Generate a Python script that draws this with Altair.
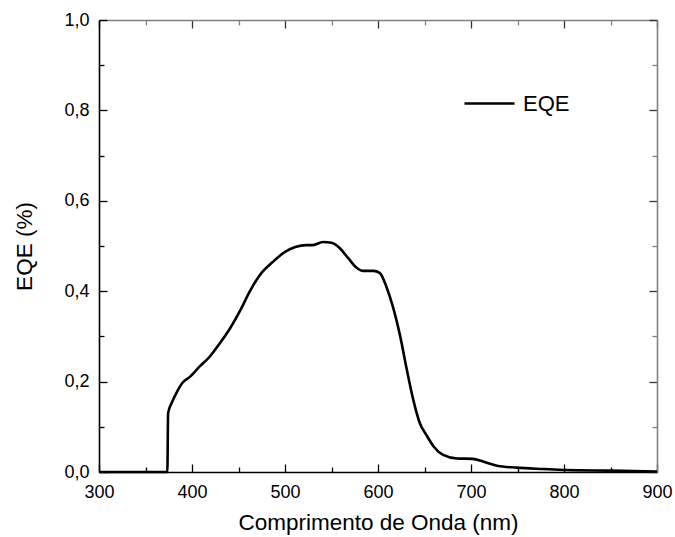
import altair as alt
import pandas as pd

wavelength = [300, 373.5, 374.3, 378, 384, 390, 398, 408, 419, 430, 441, 452, 462, 473,
              487, 500, 511, 523, 530, 541, 550, 559, 568, 577, 584, 595, 602, 609,
              616, 624, 631, 638, 645, 652, 660, 670, 685, 702, 713, 728, 749, 778,
              803, 850, 900]
eqe = [0, 0, 0.13, 0.152, 0.178, 0.198, 0.211, 0.233, 0.255, 0.285, 0.318, 0.358, 0.399,
       0.436, 0.465, 0.487, 0.498, 0.502, 0.502, 0.509, 0.507, 0.495, 0.473, 0.452, 0.445,
       0.445, 0.44, 0.41, 0.366, 0.299, 0.226, 0.159, 0.108, 0.082, 0.056, 0.038, 0.030,
       0.029, 0.023, 0.014, 0.0096, 0.0066, 0.0044, 0.003, 0.001]
series_name = "EQE"
x_major = [300, 400, 500, 600, 700, 800, 900]
x_minor = [350, 450, 550, 650, 750, 850]
y_major = [0.0, 0.2, 0.4, 0.6, 0.8, 1.0]
y_minor = [0.1, 0.3, 0.5, 0.7, 0.9]

df = pd.DataFrame({"wl": wavelength, "eqe": eqe, "series": series_name})

FONT = "Liberation Sans"
xs = alt.Scale(domain=[300, 900], nice=False, zero=False)
ys = alt.Scale(domain=[0, 1], nice=False, zero=False)
ylab = "replace(format(datum.value, '.1f'), '.', ',')"

def ax(orient, values, size, labels=False, title=None, expr=None, domain=True,
       lpad=0, tpad=0, dcolor="black", tcolor="black"):
    kw = dict(orient=orient, values=values, tickSize=alt.ExprRef(str(-size)),
              tickColor=tcolor, tickWidth=1.3, grid=False, labels=labels,
              domain=domain, domainColor=dcolor, domainWidth=1.6)
    if labels:
        kw.update(labelFont=FONT, labelFontSize=18, labelColor="black",
                  labelPadding=lpad, labelFlush=False, labelOverlap=False)
        if expr:
            kw["labelExpr"] = expr
    if title:
        kw.update(title=title, titleFont=FONT, titleFontSize=22.5,
                  titleFontWeight="normal", titleColor="black", titlePadding=tpad)
    else:
        kw["title"] = None
    return alt.Axis(**kw)

base = alt.Chart(df)

main = base.mark_line(strokeWidth=2.6, interpolate="monotone").encode(
    x=alt.X("wl:Q", scale=xs, axis=ax("bottom", x_major, 8, labels=True,
                                      title="Comprimento de Onda (nm)", lpad=19, tpad=10)),
    y=alt.Y("eqe:Q", scale=ys, axis=ax("left", y_major, 8, labels=True,
                                       title="EQE (%)", expr=ylab, lpad=18, tpad=27)),
    color=alt.Color("series:N", scale=alt.Scale(range=["black"]),
                    legend=alt.Legend(orient="none", legendX=364, legendY=57, title=None,
                                      symbolType="stroke", symbolSize=2500,
                                      symbolStrokeWidth=2.6, labelFont=FONT,
                                      labelFontSize=22, labelColor="black",
                                      labelOffset=7)),
)

def ghost(xo, xv, xsz, yo, yv, ysz, dom, dcolor, tcolor):
    return base.mark_line(opacity=0).encode(
        x=alt.X("wl:Q", scale=xs, axis=ax(xo, xv, xsz, domain=dom, dcolor=dcolor, tcolor=tcolor)),
        y=alt.Y("eqe:Q", scale=ys, axis=ax(yo, yv, ysz, domain=dom, dcolor=dcolor, tcolor=tcolor)),
    )

l2 = ghost("bottom", x_minor, 5, "left", y_minor, 5, False, "black", "black")
l3 = ghost("top", x_major, 8, "right", y_major, 8, True, "#808080", "#333333")
l4 = ghost("top", x_minor, 5, "right", y_minor, 5, False, "#808080", "#808080")

chart = alt.layer(main, l2, l3, l4).resolve_axis(
    x="independent", y="independent"
).properties(
    width=558, height=452,
    autosize=alt.AutoSizeParams(type="none"),
    padding={"left": 99, "top": 20, "right": 18, "bottom": 65},
    background="white",
).configure_view(stroke=None)

chart.save("out.html", embed_options={"renderer": "svg", "actions": False})
